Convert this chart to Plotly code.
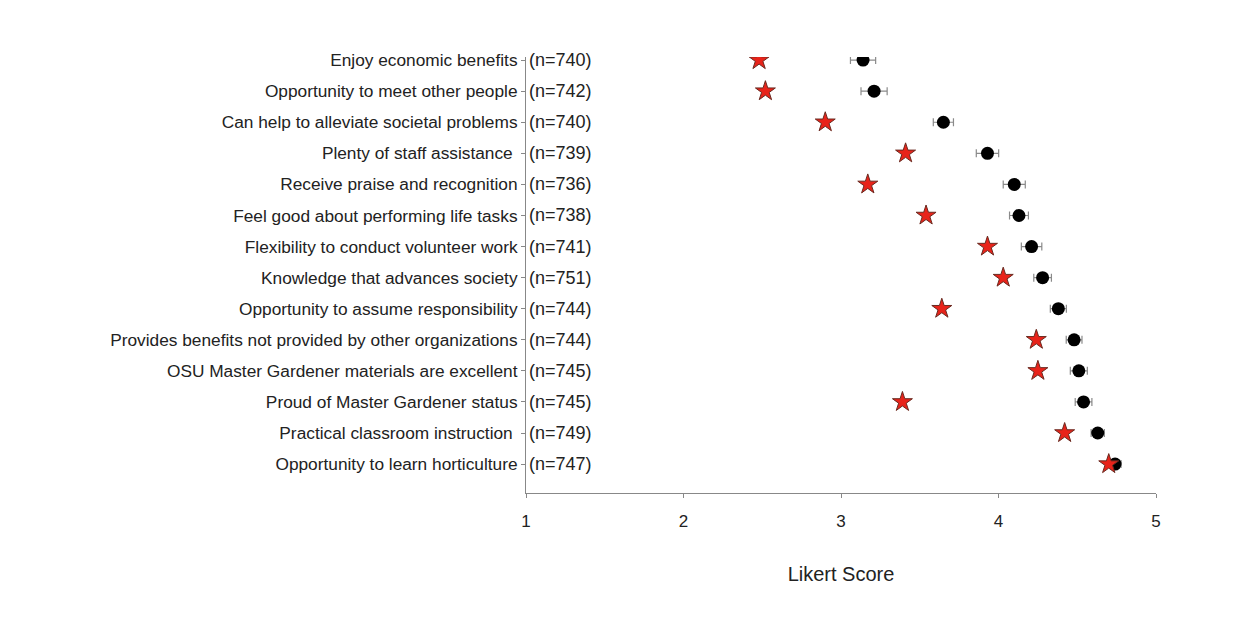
import plotly.graph_objects as go

categories = [
    "Enjoy economic benefits",
    "Opportunity to meet other people",
    "Can help to alleviate societal problems",
    "Plenty of staff assistance\u00a0",
    "Receive praise and recognition",
    "Feel good about performing life tasks",
    "Flexibility to conduct volunteer work",
    "Knowledge that advances society",
    "Opportunity to assume responsibility",
    "Provides benefits not provided by other organizations",
    "OSU Master Gardener materials are excellent",
    "Proud of Master Gardener status",
    "Practical classroom instruction\u00a0",
    "Opportunity to learn horticulture",
]
n_values = [740, 742, 740, 739, 736, 738, 741, 751, 744, 744, 745, 745, 749, 747]
mean_scores = [3.14, 3.21, 3.65, 3.93, 4.10, 4.13, 4.21, 4.28, 4.38, 4.48, 4.51, 4.54, 4.63, 4.74]
mean_errors = [0.08, 0.083, 0.064, 0.071, 0.07, 0.06, 0.065, 0.056, 0.051, 0.05, 0.054, 0.053, 0.042, 0.038]
star_scores = [2.48, 2.52, 2.90, 3.41, 3.17, 3.54, 3.93, 4.03, 3.64, 4.24, 4.25, 3.39, 4.42, 4.70]
x_ticks = [1, 2, 3, 4, 5]

rows = list(range(len(categories)))
n_labels = [f"(n={n})" for n in n_values]

FONT = "Liberation Sans, Arial, sans-serif"

fig = go.Figure()

fig.add_trace(go.Scatter(
    x=mean_scores, y=rows, mode="markers",
    marker=dict(symbol="circle", size=13, color="black"),
    error_x=dict(type="data", array=mean_errors, color="#8a8a8a", thickness=1.2, width=4),
    showlegend=False,
))

fig.add_trace(go.Scatter(
    x=star_scores, y=rows, mode="markers",
    marker=dict(symbol="star", size=15, color="#e8231a", line=dict(color="#6a2a20", width=1)),
    showlegend=False,
))

for r, lab in zip(rows, n_labels):
    fig.add_annotation(
        x=1, y=r, xref="x", yref="y", text=lab, showarrow=False,
        xanchor="left", yanchor="middle", xshift=1, yshift=0,
        font=dict(family=FONT, size=18, color="#222"),
    )

fig.update_layout(
    width=1241, height=619,
    margin=dict(l=526, r=85, t=57, b=126),
    paper_bgcolor="white", plot_bgcolor="white",
    font=dict(family=FONT, size=17, color="#222"),
    xaxis=dict(
        range=[1, 5], tickvals=x_ticks, ticktext=[str(t) for t in x_ticks],
        showgrid=False, zeroline=False, showline=True, linecolor="#888", linewidth=1,
        ticks="outside", ticklen=4, tickcolor="#888", ticklabelstandoff=9,
        tickfont=dict(family=FONT, size=17, color="#222"),
        title=dict(text="Likert Score", font=dict(family=FONT, size=20, color="#222"), standoff=36),
    ),
    yaxis=dict(
        range=[13.93, -0.1], tickvals=rows, ticktext=categories,
        showgrid=False, zeroline=False, showline=True, linecolor="#888", linewidth=1,
        ticks="outside", ticklen=4, tickcolor="#888",
        tickfont=dict(family=FONT, size=17.3, color="#222"),
    ),
)

fig.write_html("out.html")
